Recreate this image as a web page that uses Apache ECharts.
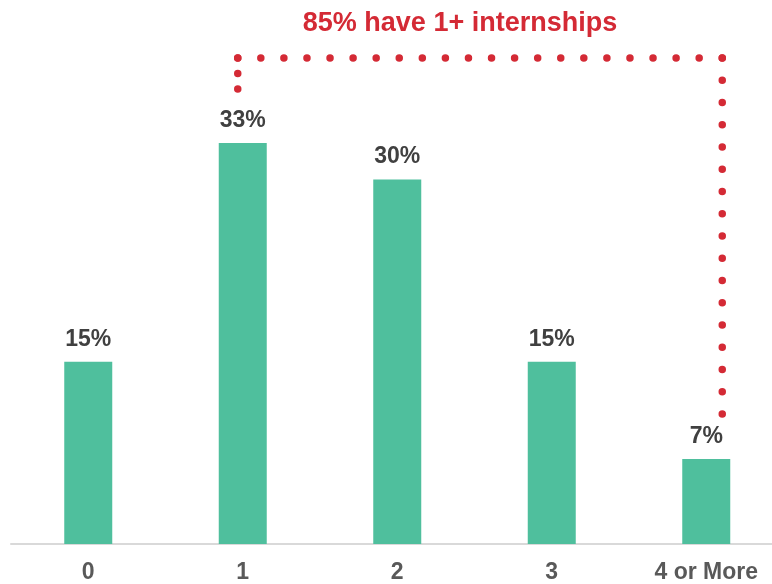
<!DOCTYPE html>
<html>
<head>
<meta charset="utf-8">
<script src="https://cdn.jsdelivr.net/npm/echarts@6/dist/echarts.min.js"></script>
<style>
  html, body { margin: 0; padding: 0; background: #fff; overflow: hidden; }
  #chart { width: 796px; height: 584px; }
</style>
</head>
<body>
<div id="chart"></div>
<script>
// Number of internships completed, share of respondents (%)
const categories = ['0', '1', '2', '3', '4 or More'];
const shares = [15, 33, 30, 15, 7];
const headline = '85% have 1+ internships';

const chart = echarts.init(document.getElementById('chart'), null, { renderer: 'canvas' });

const FONT = '"Liberation Sans", Arial, sans-serif';
const RED = '#d42a35';

chart.setOption({
  animation: false,
  backgroundColor: '#ffffff',
  grid: { left: 11, top: 58, width: 772.5, height: 486, containLabel: false },
  xAxis: {
    type: 'category',
    data: categories,
    axisTick: { show: false },
    axisLine: { lineStyle: { color: '#d9d9d9', width: 2 } },
    axisLabel: {
      color: '#595959',
      fontFamily: FONT,
      fontWeight: 'bold',
      fontSize: 23,
      margin: 17
    }
  },
  yAxis: {
    type: 'value',
    min: 0,
    max: 40,
    show: false,
    splitLine: { show: false }
  },
  series: [{
    type: 'bar',
    data: shares,
    barWidth: 48,
    itemStyle: { color: '#4fbf9d' },
    label: {
      show: true,
      position: 'top',
      distance: 11,
      formatter: p => p.value + '%',
      color: '#404040',
      fontFamily: FONT,
      fontWeight: 'bold',
      fontSize: 23
    }
  }]
});

// One dotted segment whose dots land on both ends
function dottedSegment(a, b, step) {
  const dx = b[0] - a[0];
  const dy = b[1] - a[1];
  const len = Math.hypot(dx, dy);
  const n = Math.max(1, Math.round(len / step));
  // stretch the stroke a hair past the end so the final dot is not clipped
  const ext = 1 / len;
  return {
    type: 'line',
    shape: { x1: a[0], y1: a[1], x2: b[0] + dx * ext, y2: b[1] + dy * ext },
    style: {
      stroke: RED,
      lineWidth: 7.5,
      lineCap: 'round',
      lineDash: [0, len / n]
    },
    silent: true
  };
}

// Dotted bracket spanning categories "1" through "4 or More"
function drawBracket() {
  const first = chart.convertToPixel({ gridIndex: 0 }, [1, shares[1]]);
  const last = chart.convertToPixel({ gridIndex: 0 }, [4, shares[4]]);
  const topY = 58;
  const xl = first[0] - 5;
  const xr = last[0] + 16;
  const yl = first[1] - 54;
  const yr = last[1] - 45;
  chart.setOption({
    graphic: [
      dottedSegment([xl, yl], [xl, topY], 15.5),
      dottedSegment([xl, topY], [xr, topY], 23),
      dottedSegment([xr, topY], [xr, yr], 22.5),
      {
        type: 'text',
        style: {
          text: headline,
          x: 460,
          y: 24,
          align: 'center',
          verticalAlign: 'middle',
          fill: RED,
          font: 'bold 27px ' + FONT
        },
        silent: true
      }
    ]
  });
}
drawBracket();
</script>
</body>
</html>
